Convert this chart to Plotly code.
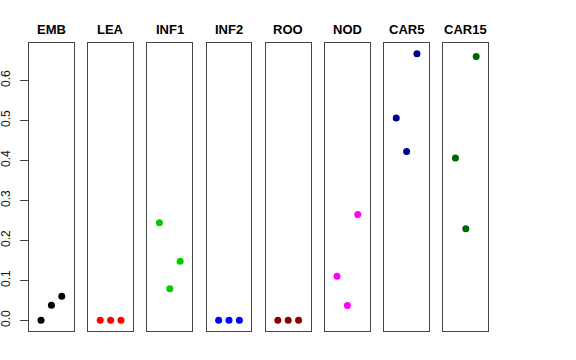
import plotly.graph_objects as go

panels = ["EMB", "LEA", "INF1", "INF2", "ROO", "NOD", "CAR5", "CAR15"]
colors = ["#000000", "#FF0000", "#00CD00", "#0000FF", "#8B0000", "#FF00FF", "#00008B", "#006400"]
x_pos = [1, 2, 3]
emb = [0.0, 0.038, 0.060]
lea = [0.0, 0.0, 0.0]
inf1 = [0.244, 0.079, 0.148]
inf2 = [0.0, 0.0, 0.0]
roo = [0.0, 0.0, 0.0]
nod = [0.110, 0.037, 0.265]
car5 = [0.506, 0.422, 0.667]
car15 = [0.406, 0.229, 0.660]
series = [emb, lea, inf1, inf2, roo, nod, car5, car15]
y_ticks = [0.0, 0.1, 0.2, 0.3, 0.4, 0.5, 0.6]

W, H = 576, 360
left0, step, pw = 29.0, 59.2, 44.8
top_px, bot_px = 43.0, 331.0
ymin, ymax = 0.0, max(max(s) for s in series)
pad = 0.04 * (ymax - ymin)
yr = [ymin - pad, ymax + pad]
xr = [0 - 0.16, 4 + 0.16]

fig = go.Figure()
layout = dict(
    width=W, height=H, margin=dict(l=0, r=0, t=0, b=0, autoexpand=False),
    template="none",
    paper_bgcolor="white", plot_bgcolor="white", showlegend=False,
    font=dict(family="Liberation Sans, Arial, sans-serif", color="#000000"),
)
annotations = []
for i, (name, col, ys) in enumerate(zip(panels, colors, series)):
    n = "" if i == 0 else str(i + 1)
    fig.add_trace(go.Scatter(x=x_pos, y=ys, mode="markers",
                             marker=dict(color=col, size=7, line=dict(width=0)),
                             xaxis="x" + n, yaxis="y" + n))
    x0 = (left0 + step * i) / W
    x1 = (left0 + step * i + pw) / W
    layout["xaxis" + n] = dict(domain=[x0, x1], range=xr, showgrid=False, zeroline=False,
                               showticklabels=False, ticks="", showline=True, mirror=True,
                               linecolor="#444444", linewidth=1, anchor="y" + n,
                               automargin=False)
    ydict = dict(domain=[(H - bot_px) / H, (H - top_px) / H], range=yr, showgrid=False,
                 zeroline=False, showline=True, mirror=True, linecolor="#444444",
                 linewidth=1, anchor="x" + n, automargin=False)
    if i == 0:
        ydict.update(tickvals=y_ticks, ticktext=["%.1f" % v for v in y_ticks],
                     ticks="outside", ticklen=8, tickcolor="#444444", tickangle=-90,
                     ticklabelstandoff=5,
                     tickfont=dict(size=12, color="#111111"), showticklabels=True)
    else:
        ydict.update(showticklabels=False, ticks="", matches="y")
    layout["yaxis" + n] = ydict
    annotations.append(dict(text="<b>%s</b>" % name, x=(x0 + x1) / 2, y=(H - 29) / H,
                            xref="paper", yref="paper", showarrow=False,
                            font=dict(size=13, color="#000000"), xanchor="center",
                            yanchor="middle"))
layout["annotations"] = annotations
fig.update_layout(**layout)
fig.write_html("out.html", config={"displayModeBar": False},
               post_script="document.body.style.margin='0';document.body.style.padding='0';")
